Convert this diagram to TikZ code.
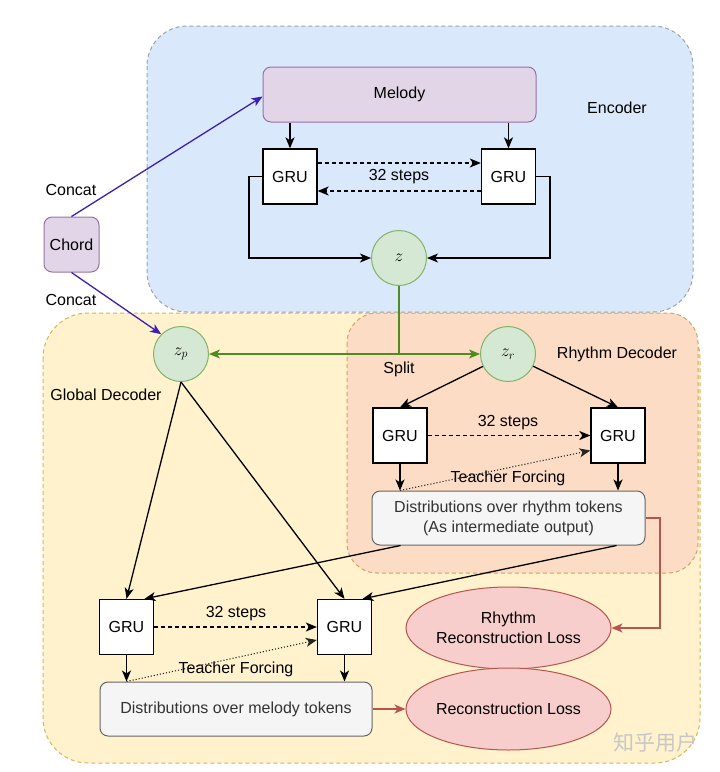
\documentclass[tikz,border=0pt]{standalone}
\usepackage{fontspec}
\setmainfont{Liberation Sans}
\newfontfamily\cjk{Noto Sans CJK SC}
\usetikzlibrary{arrows.meta,shapes.geometric,calc}
\definecolor{encfill}{HTML}{DAE8FC}
\definecolor{encdraw}{HTML}{9AA3AE}
\definecolor{gdfill}{HTML}{FFF2CC}
\definecolor{gddraw}{HTML}{D6B656}
\definecolor{rdfill}{HTML}{FCDCC4}
\definecolor{rddraw}{HTML}{D7A060}
\definecolor{purfill}{HTML}{E1D5E7}
\definecolor{purdraw}{HTML}{9673A6}
\definecolor{grnfill}{HTML}{D5E8D4}
\definecolor{grndraw}{HTML}{82B366}
\definecolor{grnline}{HTML}{4D8C1E}
\definecolor{redfill}{HTML}{F8CECC}
\definecolor{reddraw}{HTML}{B85450}
\definecolor{greyfill}{HTML}{F5F5F5}
\definecolor{greydraw}{HTML}{666666}
\definecolor{concatc}{HTML}{3C1FB4}
\tikzset{
  txt/.style={font=\fontsize{16}{19}\selectfont, text=black},
  gru/.style={draw=black, fill=white, line width=1.3pt, minimum width=54pt, minimum height=55pt, inner sep=0pt, txt},
  purbox/.style={draw=purdraw, fill=purfill, line width=1pt, rounded corners=8pt, inner sep=0pt, txt},
  latent/.style={circle, draw=grndraw, fill=grnfill, line width=1pt, minimum size=55pt, inner sep=0pt, font=\fontsize{18}{20}\selectfont},
  distbox/.style={draw=greydraw, fill=greyfill, line width=1pt, rounded corners=8pt, minimum height=54pt, inner sep=0pt, align=center, font=\fontsize{16}{20}\selectfont, text=black!80},
  lossel/.style={ellipse, draw=reddraw, fill=redfill, line width=1pt, minimum width=166pt, minimum height=82pt, inner sep=0pt, align=center, font=\fontsize{16}{20}\selectfont, text=black},
  arr/.style={draw=black, line width=1.3pt, -{Stealth[length=11pt,width=9pt,inset=3pt]}},
  dasharr/.style={arr, dash pattern=on 4pt off 3pt},
  dotarr/.style={draw=black!85, line width=1.1pt, dotted, -{Stealth[length=11pt,width=9pt,inset=3pt]}},
  garr/.style={draw=grnline, line width=1.4pt, -{Stealth[length=11pt,width=9pt,inset=3pt]}},
  rarr/.style={draw=reddraw, line width=1.2pt, -{Stealth[length=11pt,width=9pt,inset=3pt]}},
  parr/.style={draw=concatc, line width=1.3pt, -{Stealth[length=11pt,width=9pt,inset=3pt]}},
  region/.style={line width=1pt, dash pattern=on 4pt off 3pt},
}
\begin{document}
\begin{tikzpicture}[x=1pt,y=-1pt]
\useasboundingbox (0,0) rectangle (720,772);
% regions
\draw[region, draw=gddraw, fill=gdfill, rounded corners=45pt] (43,313) rectangle (700,763);
\draw[region, draw=rddraw, fill=rdfill, rounded corners=30pt] (347,313) rectangle (698,573);
\draw[region, draw=encdraw, fill=encfill, rounded corners=40pt] (147,26) rectangle (693,312);
% region labels
\node[txt] (enclab) at (617,108) {Encoder};
\node[txt] (rdlab) at (617,354) {Rhythm Decoder};
\node[txt] (gdlab) at (106,395) {Global Decoder};
% encoder nodes
\node[purbox, minimum width=273pt, minimum height=55pt] (melody) at (399.5,94.5) {Melody};
\node[gru] (eg1) at (290,176.5) {GRU};
\node[gru] (eg2) at (508.5,176.5) {GRU};
\node[latent] (z) at (399,258) {$z$};
\node[txt] (esteps) at (399,177) {32 steps};
% chord
\node[purbox, minimum width=55pt, minimum height=55pt] (chord) at (71.5,244.5) {Chord};
\node[txt] (cc1) at (71,190) {Concat};
\node[txt] (cc2) at (71,300) {Concat};
% latents
\node[latent] (zp) at (181,354) {$z_p$};
\node[latent] (zr) at (508,354) {$z_r$};
\coordinate (split) at (399,354);
\node[txt] (splitlab) at (399,369) {Split};
% rhythm decoder
\node[gru] (rg1) at (400,435.5) {GRU};
\node[gru] (rg2) at (618,435.5) {GRU};
\node[txt] (rsteps) at (508,423) {32 steps};
\node[distbox, minimum width=273pt] (rdist) at (508.5,518) {Distributions over rhythm tokens\\(As intermediate output)};
\node[txt] (rtf) at (508,478) {Teacher Forcing};
% global decoder
\node[gru] (gg1) at (126.5,627) {GRU};
\node[gru] (gg2) at (344.5,627) {GRU};
\node[txt] (gsteps) at (236,614) {32 steps};
\node[distbox, minimum width=272pt] (mdist) at (236,709) {Distributions over melody tokens};
\node[txt] (gtf) at (236,669) {Teacher Forcing};
% losses
\node[lossel] (rloss) at (508.5,628) {Rhythm\\Reconstruction Loss};
\node[lossel] (loss) at (508.5,709) {Reconstruction Loss};
% watermark
\node[font=\cjk\fontsize{21}{24}\selectfont, text=black!22] (wm) at (655,743) {知乎用户};
% encoder connectors
\draw[arr] (melody.south -| eg1) -- (eg1.north);
\draw[arr] (melody.south -| eg2) -- (eg2.north);
\draw[dasharr] ([yshift=13.5pt]eg1.east) -- ([yshift=13.5pt]eg2.west);
\draw[dasharr] ([yshift=-14.5pt]eg2.west) -- ([yshift=-14.5pt]eg1.east);
\draw[arr] (eg1.west) -- (249,176.5) |- (z.west);
\draw[arr] (eg2.east) -- (550,176.5) |- (z.east);
% chord concat
\draw[parr] (chord.north) -- ([yshift=-2pt]melody.west);
\draw[parr] (chord.south) -- (zp.north west);
% split
\draw[draw=grnline, line width=1.4pt] (z.south) -- (split);
\draw[garr] (split) -- (zp.east);
\draw[garr] (split) -- (zr.west);
% rhythm decoder connectors
\draw[arr] (zr) -- (rg1.north);
\draw[arr] (zr) -- (rg2.north);
\draw[dasharr] (rg1.east) -- (rg2.west);
\draw[arr] (rg1.south) -- (rg1.south |- rdist.north);
\draw[arr] (rg2.south) -- (rg2.south |- rdist.north);
\draw[dotarr] (rg1.south |- rdist.north) -- ([yshift=-15pt]rg2.west);
\draw[rarr] (rdist.east) -- (660,518) |- (rloss.east);
% global decoder connectors
\draw[arr] (zp.south) -- (gg1.north);
\draw[arr] (zp.south) -- (gg2.north);
\draw[arr] ([xshift=-108pt]rdist.south) -- ([xshift=18pt]gg1.north);
\draw[arr] ([xshift=108pt]rdist.south) -- ([xshift=18pt]gg2.north);
\draw[dasharr] (gg1.east) -- (gg2.west);
\draw[arr] (gg1.south) -- (gg1.south |- mdist.north);
\draw[arr] (gg2.south) -- (gg2.south |- mdist.north);
\draw[dotarr] (gg1.south |- mdist.north) -- ([yshift=-13pt]gg2.west);
\draw[rarr] (mdist.east) -- (loss.west);
\end{tikzpicture}
\end{document}
